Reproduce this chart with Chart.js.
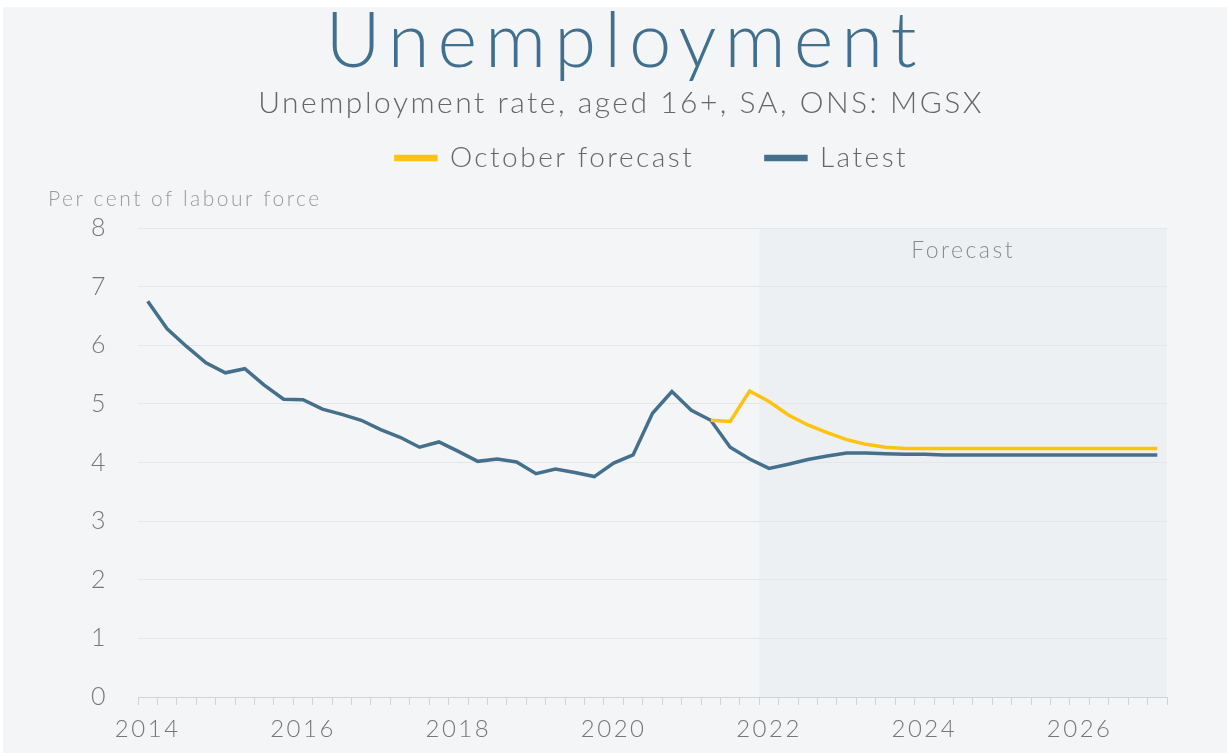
<!DOCTYPE html>
<html>
<head>
<meta charset="utf-8">
<script src="https://cdn.jsdelivr.net/npm/chart.js@4"></script>
<style>
  html, body { margin: 0; padding: 0; background: #fff; }
  #wrap { width: 1227px; height: 753px; }
</style>
</head>
<body>
<div id="wrap"><canvas id="myChart" width="1227" height="753"></canvas></div>
<script>
// quarters 2014 Q1 .. 2027 Q1
const years = [2014, 2015, 2016, 2017, 2018, 2019, 2020, 2021, 2022, 2023, 2024, 2025, 2026, 2027]
const labels = []
years.forEach(y => {
  ['Q1', 'Q2', 'Q3', 'Q4'].forEach(q => {
    if (y < 2027 || q === 'Q1') labels.push(y + ' ' + q)
  })
})

const latest = [
  6.75, 6.28, 5.98, 5.70, 5.53, 5.60, 5.32, 5.08,
  5.07, 4.91, 4.82, 4.72, 4.56, 4.43, 4.26, 4.35,
  4.19, 4.02, 4.06, 4.01, 3.81, 3.89, 3.83, 3.76,
  3.99, 4.13, 4.84, 5.21, 4.89, 4.72, 4.26, 4.06,
  3.90, 3.97, 4.05, 4.11, 4.16, 4.16, 4.15, 4.14,
  4.14, 4.13, 4.13, 4.13, 4.13, 4.13, 4.13, 4.13,
  4.13, 4.13, 4.13, 4.13, 4.13
]

const octoberForecast = [
  null, null, null, null, null, null, null, null,
  null, null, null, null, null, null, null, null,
  null, null, null, null, null, null, null, null,
  null, null, null, null, null, 4.72, 4.70, 5.22,
  5.04, 4.81, 4.64, 4.51, 4.39, 4.31, 4.26, 4.24,
  4.24, 4.24, 4.24, 4.24, 4.24, 4.24, 4.24, 4.24,
  4.24, 4.24, 4.24, 4.24, 4.24
]

const forecastStart = '2022 Q1'
const yTicks = [0, 1, 2, 3, 4, 5, 6, 7, 8]

const FONT = 'Lato, "Open Sans", sans-serif'
const YELLOW = '#ffc20e'
const BLUE = '#45708c'

const backdrop = {
  id: 'backdrop',
  afterInit(chart) {
    // leave a gap between the legend and the plot
    const legend = chart.legend
    const fit = legend.fit
    legend.fit = function () {
      fit.call(this)
      this.height += 46
    }
    // wide title lettering
    const title = chart.titleBlock
    const draw = title.draw
    title.draw = function () {
      const ctx = this.ctx
      ctx.save()
      ctx.letterSpacing = '8px'
      ctx.translate(4, 0)
      draw.call(this)
      ctx.restore()
    }
  },
  beforeUpdate(chart) {
    // the original typeface is wide, so open the letters up a bit
    chart.ctx.letterSpacing = '2.5px'
  },
  afterLayout(chart) {
    chart.legend.left += 31
    chart.legend.right += 31
  },
  beforeDraw(chart) {
    const { ctx, chartArea } = chart
    const x = chart.scales.x
    ctx.save()
    ctx.fillStyle = '#fff'
    ctx.fillRect(0, 0, chart.width, chart.height)
    ctx.fillStyle = '#f4f5f7'
    ctx.fillRect(3, 7, chart.width - 3, chart.height - 7)
    // forecast shading
    const left = x.getPixelForValue(labels.indexOf(forecastStart) - 0.5)
    ctx.fillStyle = '#edf0f3'
    ctx.fillRect(left, chartArea.top, chartArea.right - left, chartArea.bottom - chartArea.top)
    ctx.fillStyle = '#8a8a8a'
    ctx.font = '300 23px ' + FONT
    ctx.textAlign = 'center'
    ctx.textBaseline = 'middle'
    ctx.fillText('Forecast', (left + chartArea.right) / 2, chartArea.top + 23)
    // y axis title
    ctx.fillStyle = '#9a9a9a'
    ctx.font = '300 21px ' + FONT
    ctx.textAlign = 'left'
    ctx.fillText('Per cent of labour force', 48, chartArea.top - 29)
    ctx.restore()
  }
}

new Chart(document.getElementById('myChart'), {
  type: 'line',
  data: {
    labels: labels,
    datasets: [{
      label: 'October forecast',
      data: octoberForecast,
      borderColor: YELLOW,
      backgroundColor: YELLOW,
      borderWidth: 3.5,
      pointRadius: 0,
      lineTension: 0,
      spanGaps: false
    }, {
      label: 'Latest',
      data: latest,
      borderColor: BLUE,
      backgroundColor: BLUE,
      borderWidth: 3.5,
      pointRadius: 0,
      lineTension: 0
    }]
  },
  options: {
    responsive: false,
    animation: false,
    layout: { padding: { top: 2, right: 60, bottom: 0, left: 75 } },
    plugins: {
      title: {
        display: true,
        text: 'Unemployment',
        color: '#41708f',
        font: { family: FONT, size: 76, weight: '300', lineHeight: 0.8 },
        padding: { top: 9.6, bottom: 0 }
      },
      subtitle: {
        display: true,
        text: 'Unemployment rate, aged 16+, SA, ONS: MGSX',
        color: '#666',
        font: { family: FONT, size: 30, weight: '300', lineHeight: 1.0 },
        padding: { top: 15.6, bottom: -45.6 }
      },
      legend: {
        labels: {
          color: '#666',
          font: { family: FONT, size: 28, weight: '300' },
          boxWidth: 40,
          boxHeight: 3,
          padding: 71.6
        }
      },
      tooltip: { enabled: false }
    },
    scales: {
      x: {
        offset: true,
        grid: {
          drawOnChartArea: false,
          drawTicks: true,
          tickLength: 8,
          color: '#cfd3d8',
          offset: true
        },
        border: { color: '#cfd3d8' },
        ticks: {
          autoSkip: false,
          maxRotation: 0,
          color: '#777',
          font: { family: FONT, size: 24, weight: '300', lineHeight: 1.0 },
          padding: 12,
          callback: function (v, i) {
            const l = labels[i]
            const yr = parseInt(l)
            return (l.endsWith('Q1') && yr % 2 === 0 && yr < 2027) ? String(yr) : ''
          }
        }
      },
      y: {
        min: 0,
        max: 8,
        afterFit(scale) { scale.width = 63 },
        afterBuildTicks(scale) { scale.ticks = yTicks.map(v => ({ value: v })) },
        grid: { color: '#e4e6e9', drawTicks: false },
        border: { display: false },
        ticks: {
          color: '#777',
          font: { family: FONT, size: 25, weight: '300' },
          padding: 30
        }
      }
    }
  },
  plugins: [backdrop]
})
</script>
</body>
</html>
